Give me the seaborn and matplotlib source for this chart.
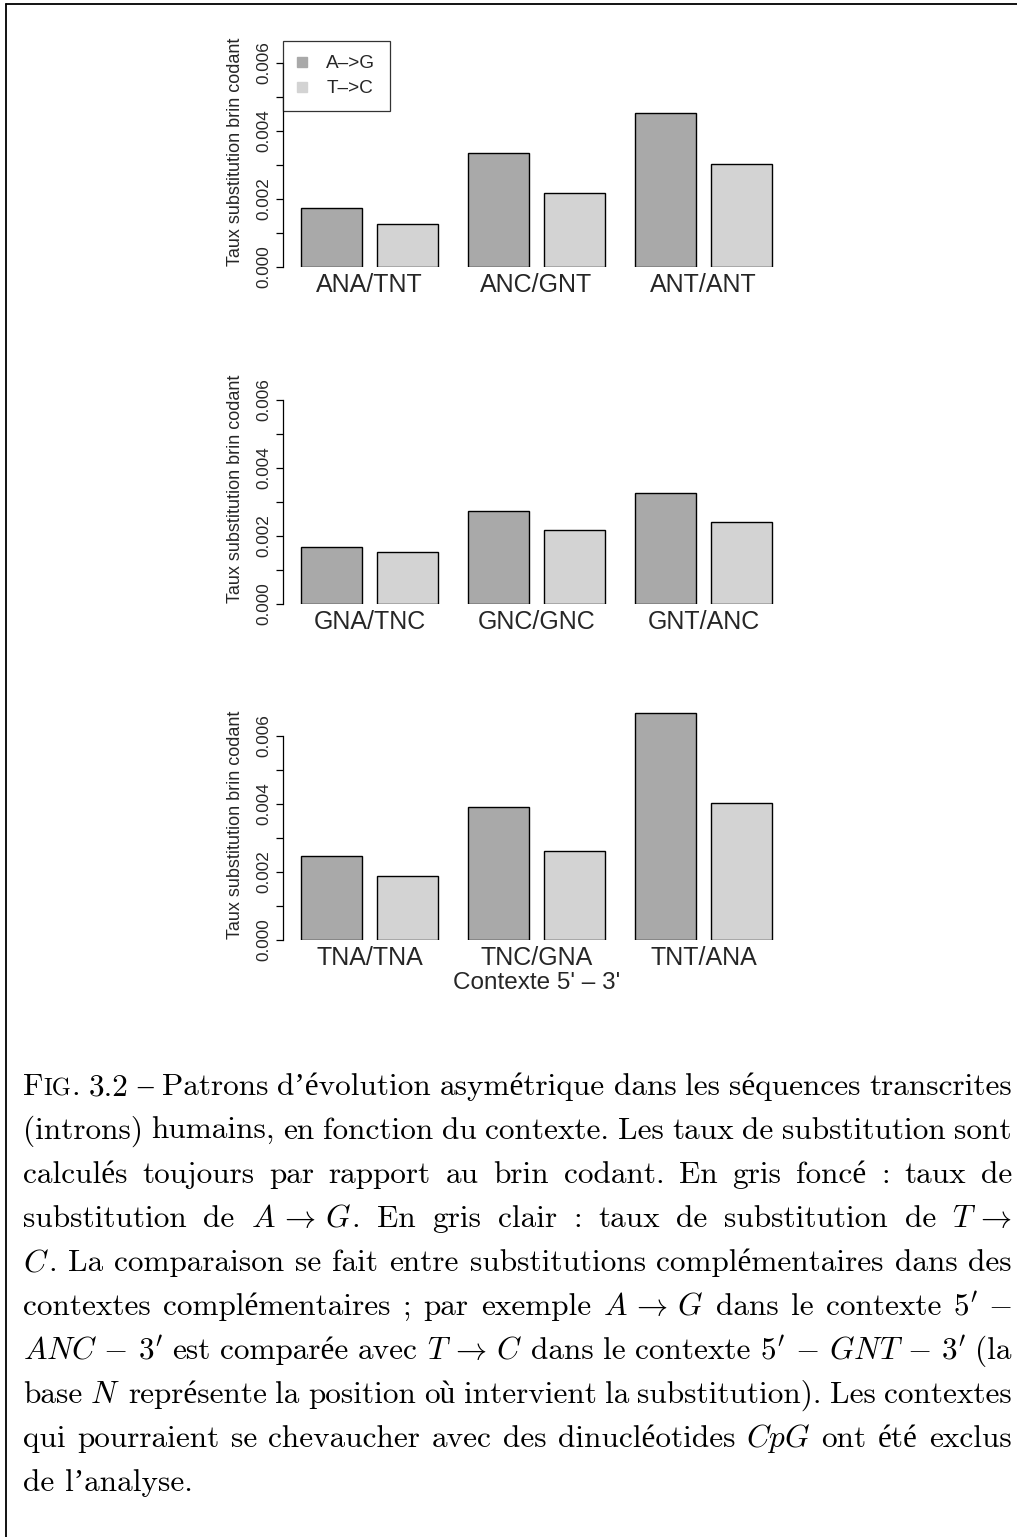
import re
import numpy as np
import pandas as pd
import matplotlib
matplotlib.use("Agg")
import matplotlib.pyplot as plt
import seaborn as sns
from matplotlib.lines import Line2D

# ---------------- data ----------------
series_names = ["A\u2013>G", "T\u2013>C"]
series_colors = ["#A9A9A9", "#D3D3D3"]

ctx_1 = ["ANA/TNT", "ANC/GNT", "ANT/ANT"]
ag_1 = [0.00174, 0.00335, 0.00453]
tc_1 = [0.00126, 0.00218, 0.00303]

ctx_2 = ["GNA/TNC", "GNC/GNC", "GNT/ANC"]
ag_2 = [0.00168, 0.00275, 0.00327]
tc_2 = [0.00154, 0.00219, 0.00240]

ctx_3 = ["TNA/TNA", "TNC/GNA", "TNT/ANA"]
ag_3 = [0.00246, 0.00391, 0.00668]
tc_3 = [0.00189, 0.00261, 0.00404]

y_ticks = [0.000, 0.002, 0.004, 0.006]
y_ticklabels = ["0.000", "0.002", "0.004", "0.006"]
y_minor_ticks = [0.001, 0.003, 0.005]
y_label = "Taux substitution brin codant"
x_label = "Contexte 5' \u2013 3'"

caption_lines = [
    r"FIG. 3.2 – Patrons d’évolution asymétrique dans les séquences transcrites",
    r"(introns) humains, en fonction du contexte. Les taux de substitution sont",
    r"calculés toujours par rapport au brin codant. En gris foncé : taux de",
    r"substitution de $A\,\rightarrow\,G$. En gris clair : taux de substitution de $T\,\rightarrow$",
    r"$C$. La comparaison se fait entre substitutions complémentaires dans des",
    r"contextes complémentaires ; par exemple $A\,\rightarrow\,G$ dans le contexte $5^{\prime}\,-$",
    r"$ANC\,-\,3^{\prime}$ est comparée avec $T\,\rightarrow\,C$ dans le contexte $5^{\prime}\,-\,GNT\,-\,3^{\prime}$ (la",
    r"base $N$ représente la position où intervient la substitution). Les contextes",
    r"qui pourraient se chevaucher avec des dinucléotides $CpG$ ont été exclus",
    r"de l’analyse.",
]

# ---------------- style ----------------
sns.set_style("white")
plt.rcParams["font.family"] = ["Liberation Sans", "DejaVu Sans"]
plt.rcParams["mathtext.fontset"] = "cm"

W, H = 1017, 1537
fig = plt.figure(figsize=(W / 100, H / 100), dpi=100)

ax_left_px = 282.5
ax_width_px = 508.5
cat0_px = 369.5
pitch_px = 167.0
ymax = 0.0069
px_per_unit = 34000.0
ax_height_px = ymax * px_per_unit
xlim = ((ax_left_px - cat0_px) / pitch_px, (ax_left_px + ax_width_px - cat0_px) / pitch_px)

panels = [
    (ctx_1, ag_1, tc_1, 267.0),
    (ctx_2, ag_2, tc_2, 604.0),
    (ctx_3, ag_3, tc_3, 940.0),
]
palette = dict(zip(series_names, series_colors))

axes = []
for i, (ctx, ag, tc, base_px) in enumerate(panels):
    ax = fig.add_axes([ax_left_px / W, 1 - base_px / H, ax_width_px / W, ax_height_px / H])
    df = pd.DataFrame({
        "ctx": ctx * 2,
        "subst": [series_names[0]] * 3 + [series_names[1]] * 3,
        "rate": list(ag) + list(tc),
    })
    sns.barplot(data=df, x="ctx", y="rate", hue="subst", order=ctx, hue_order=series_names,
                palette=palette, saturation=1, width=0.91, gap=0.197,
                edgecolor="black", linewidth=1.0, legend=False, ax=ax)
    ax.set_xlim(*xlim)
    ax.set_ylim(0, ymax)
    for s in ["top", "right", "bottom"]:
        ax.spines[s].set_visible(False)
    ax.spines["left"].set_bounds(0, 0.006)
    ax.spines["left"].set_linewidth(0.9)
    ax.spines["left"].set_color("black")
    ax.set_yticks(y_ticks)
    ax.set_yticklabels(y_ticklabels)
    ax.set_yticks(y_minor_ticks, minor=True)
    ax.tick_params(axis="y", which="both", length=5, width=0.9, color="black",
                   direction="out", left=True, labelsize=12.3, pad=3.0)
    for lab in ax.get_yticklabels():
        lab.set_rotation(90)
        lab.set_va("center")
        lab.set_ha("right")
    ax.tick_params(axis="x", length=0, labelsize=18, pad=4.0)
    ax.set_ylabel(y_label, fontsize=13)
    ax.yaxis.set_label_coords((244.5 - ax_left_px) / ax_width_px, 115.0 / ax_height_px)
    if i == 2:
        ax.set_xlabel(x_label, fontsize=17.5)
        ax.xaxis.set_label_coords(0.5, (base_px - 972.0) / ax_height_px)
    else:
        ax.set_xlabel("")
    ax.set_facecolor("none")
    axes.append(ax)

# legend on first panel
handles = [Line2D([], [], marker="s", linestyle="none", markersize=7.3,
                  markerfacecolor=c, markeredgecolor=c) for c in series_colors]
leg = axes[0].legend(handles, series_names, loc="upper left",
                     bbox_to_anchor=(282.7 / W, 1 - 40.7 / H), bbox_transform=fig.transFigure,
                     borderaxespad=0, fontsize=13.7, frameon=True, fancybox=False,
                     borderpad=0.75, labelspacing=0.4, handlelength=0.5, handletextpad=1.05)
leg.get_frame().set_edgecolor("black")
leg.get_frame().set_linewidth(0.9)

# frame lines of the page
fig.add_artist(Line2D([6 / W, 1.0], [1 - 4 / H, 1 - 4 / H], transform=fig.transFigure,
                      color="black", lw=1.3))
fig.add_artist(Line2D([6 / W, 6 / W], [1 - 4 / H, 0.0], transform=fig.transFigure,
                      color="black", lw=1.3))

# ---------------- caption (justified) ----------------
cap_family = ["cmr10", "Liberation Serif"]
cap_size = 22.5
cap_left, cap_right = 23.0, 1012.0
base0, lstep = 1095.0, 44.0

renderer = fig.canvas.get_renderer()


def split_words(line):
    words, cur, inm = [], "", False
    for ch in line:
        if ch == "$":
            inm = not inm
            cur += ch
        elif ch == " " and not inm:
            if cur:
                words.append(cur)
            cur = ""
        else:
            cur += ch
    if cur:
        words.append(cur)
    return words


def pieces_of(word):
    if word == "FIG.":
        return [("F", "r"), ("IG", "s"), (".", "r")]
    out = []
    for seg in re.split(r"(\$[^$]*\$)", word):
        if not seg:
            continue
        out.append((seg, "m" if seg.startswith("$") else "r"))
    return out


for li, line in enumerate(caption_lines):
    ybase = 1 - (base0 + li * lstep) / H
    words = split_words(line)
    wtexts = []
    wwidths = []
    for w in words:
        ts = []
        tot = 0.0
        for s, kind in pieces_of(w):
            size = cap_size * (0.78 if kind == "s" else 1.0)
            t = fig.text(0, ybase, s, fontsize=size, family=cap_family, va="baseline",
                         ha="left", color="black")
            wid = t.get_window_extent(renderer).width
            ts.append((t, wid))
            tot += wid
        wtexts.append(ts)
        wwidths.append(tot)
    natural = sum(wwidths)
    n = len(words)
    if li == len(caption_lines) - 1 or n < 2:
        gap = cap_size * 100 / 72 * 0.333
    else:
        gap = (cap_right - cap_left - natural) / (n - 1)
    x = cap_left
    for ts, ww in zip(wtexts, wwidths):
        xx = x
        for t, wid in ts:
            t.set_x(xx / W)
            xx += wid
        x += ww + gap

fig.savefig("out.png", dpi=100, facecolor="white")
